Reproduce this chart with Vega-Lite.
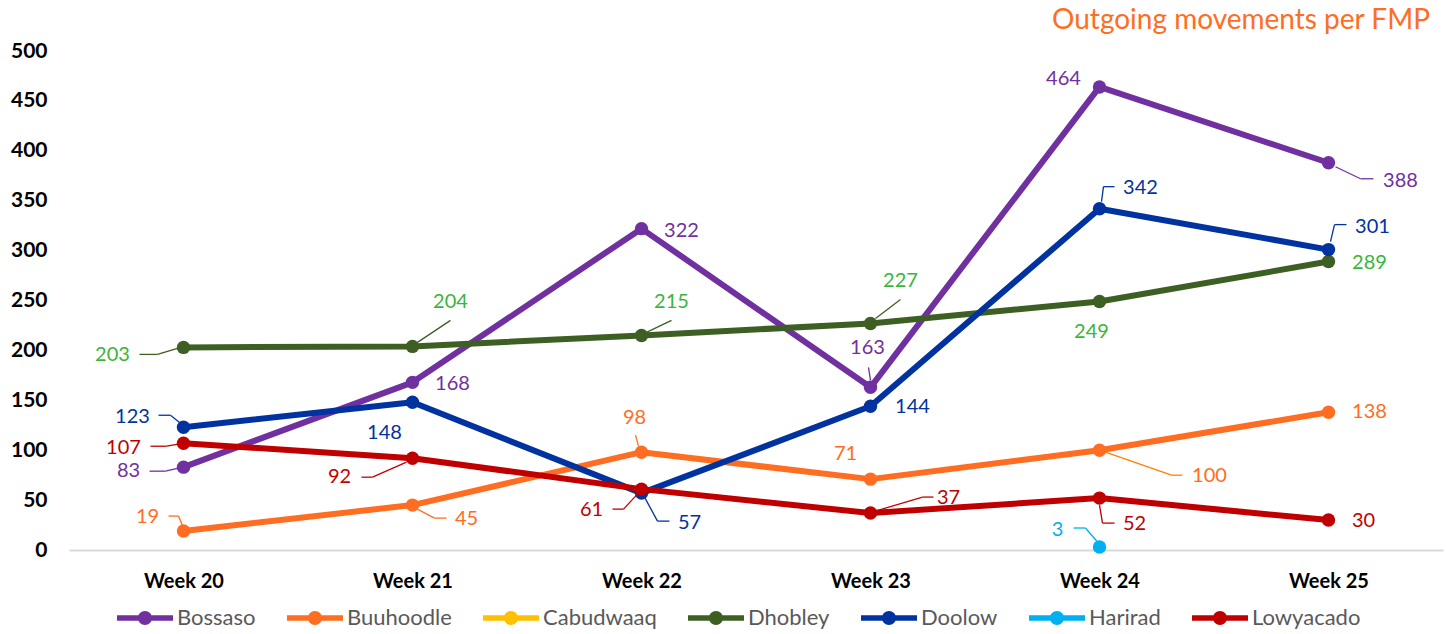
{
  "$schema": "https://vega.github.io/schema/vega-lite/v6.json",
  "width": 1374,
  "height": 499,
  "autosize": "none",
  "padding": {"left": 69, "top": 51, "right": 3, "bottom": 84},
  "title": {"text": "Outgoing movements per FMP", "anchor": "end", "frame": "group", "color": "#FF6D22", "font": "Lato", "fontSize": 28, "fontWeight": "normal", "offset": 5, "dx": -13},
  "data": {"values": [
    {"series": "Bossaso", "week": "Week 20", "value": 83},
    {"series": "Bossaso", "week": "Week 21", "value": 168},
    {"series": "Bossaso", "week": "Week 22", "value": 322},
    {"series": "Bossaso", "week": "Week 23", "value": 163},
    {"series": "Bossaso", "week": "Week 24", "value": 464},
    {"series": "Bossaso", "week": "Week 25", "value": 388},
    {"series": "Buuhoodle", "week": "Week 20", "value": 19},
    {"series": "Buuhoodle", "week": "Week 21", "value": 45},
    {"series": "Buuhoodle", "week": "Week 22", "value": 98},
    {"series": "Buuhoodle", "week": "Week 23", "value": 71},
    {"series": "Buuhoodle", "week": "Week 24", "value": 100},
    {"series": "Buuhoodle", "week": "Week 25", "value": 138},
    {"series": "Dhobley", "week": "Week 20", "value": 203},
    {"series": "Dhobley", "week": "Week 21", "value": 204},
    {"series": "Dhobley", "week": "Week 22", "value": 215},
    {"series": "Dhobley", "week": "Week 23", "value": 227},
    {"series": "Dhobley", "week": "Week 24", "value": 249},
    {"series": "Dhobley", "week": "Week 25", "value": 289},
    {"series": "Doolow", "week": "Week 20", "value": 123},
    {"series": "Doolow", "week": "Week 21", "value": 148},
    {"series": "Doolow", "week": "Week 22", "value": 57},
    {"series": "Doolow", "week": "Week 23", "value": 144},
    {"series": "Doolow", "week": "Week 24", "value": 342},
    {"series": "Doolow", "week": "Week 25", "value": 301},
    {"series": "Harirad", "week": "Week 24", "value": 3},
    {"series": "Lowyacado", "week": "Week 20", "value": 107},
    {"series": "Lowyacado", "week": "Week 21", "value": 92},
    {"series": "Lowyacado", "week": "Week 22", "value": 61},
    {"series": "Lowyacado", "week": "Week 23", "value": 37},
    {"series": "Lowyacado", "week": "Week 24", "value": 52},
    {"series": "Lowyacado", "week": "Week 25", "value": 30}
  ]},
  "encoding": {
    "x": {"field": "week", "type": "ordinal", "scale": {"type": "point", "padding": 0.5, "domain": ["Week 20", "Week 21", "Week 22", "Week 23", "Week 24", "Week 25"]},
      "axis": {"title": null, "domain": true, "domainColor": "#D9D9D9", "domainWidth": 2, "ticks": false, "tickSize": 0, "labelAngle": 0, "labelFont": "Lato", "labelFontWeight": "bold", "labelFontSize": 20, "labelColor": "#000000", "labelPadding": 21, "grid": false}},
    "y": {"field": "value", "type": "quantitative", "scale": {"domain": [0, 500], "nice": false, "zero": true},
      "axis": {"title": null, "values": [0, 50, 100, 150, 200, 250, 300, 350, 400, 450, 500], "domain": false, "ticks": false, "tickSize": 0, "grid": false, "labelFont": "Lato", "labelFontWeight": "bold", "labelFontSize": 21, "labelColor": "#000000", "labelPadding": 22}}
  },
  "layer": [
    {"mark": {"type": "line", "strokeWidth": 6, "strokeCap": "round", "strokeJoin": "round"},
     "encoding": {"color": {"field": "series", "type": "nominal",
       "scale": {"domain": ["Bossaso", "Buuhoodle", "Cabudwaaq", "Dhobley", "Doolow", "Harirad", "Lowyacado"], "range": ["#7030A0", "#FF6D22", "#FFC000", "#3E5F24", "#0033A0", "#00B0F0", "#C00000"]},
       "legend": {"title": null, "orient": "none", "legendX": 48, "legendY": 539, "direction": "horizontal", "symbolType": "M-1,-0.1H-0.2V0.1H-1Z M0.2,-0.1H1V0.1H0.2Z M0.25,0A0.25,0.25,0,1,1,-0.25,0A0.25,0.25,0,1,1,0.25,0Z", "symbolSize": 3136, "symbolStrokeWidth": 0, "labelFont": "Lato", "labelFontSize": 22, "labelColor": "#595959", "labelOffset": 4, "columnPadding": 31,
         "encode": {"symbols": {"update": {"fill": {"scale": "color", "field": "value"}, "stroke": {"value": "transparent"}, "opacity": {"value": 1}}}}}}}},
    {"mark": {"type": "circle", "size": 180, "opacity": 1},
     "encoding": {"color": {"field": "series", "type": "nominal",
       "scale": {"domain": ["Bossaso", "Buuhoodle", "Cabudwaaq", "Dhobley", "Doolow", "Harirad", "Lowyacado"], "range": ["#7030A0", "#FF6D22", "#FFC000", "#3E5F24", "#0033A0", "#00B0F0", "#C00000"]},
       "legend": {"title": null, "orient": "none", "legendX": 48, "legendY": 539, "direction": "horizontal", "symbolType": "M-1,-0.1H-0.2V0.1H-1Z M0.2,-0.1H1V0.1H0.2Z M0.25,0A0.25,0.25,0,1,1,-0.25,0A0.25,0.25,0,1,1,0.25,0Z", "symbolSize": 3136, "symbolStrokeWidth": 0, "labelFont": "Lato", "labelFontSize": 22, "labelColor": "#595959", "labelOffset": 4, "columnPadding": 31,
         "encode": {"symbols": {"update": {"fill": {"scale": "color", "field": "value"}, "stroke": {"value": "transparent"}, "opacity": {"value": 1}}}}}}}},

    {"transform": [{"filter": "datum.series=='Dhobley'&&datum.week=='Week 20'"}], "layer": [
      {"mark": {"type": "rule", "color": "#3E5F24", "strokeWidth": 1.3, "xOffset": -44, "yOffset": 7, "x2Offset": -26, "y2Offset": 7}, "encoding": {"x2": {"field": "week"}, "y2": {"field": "value"}}},
      {"mark": {"type": "rule", "color": "#3E5F24", "strokeWidth": 1.3, "xOffset": -26, "yOffset": 7, "x2Offset": -6, "y2Offset": 1}, "encoding": {"x2": {"field": "week"}, "y2": {"field": "value"}}},
      {"mark": {"type": "text", "dx": -71, "dy": 8, "color": "#3AB53A", "font": "Lato", "fontSize": 20}, "encoding": {"text": {"field": "value"}}}]},
    {"transform": [{"filter": "datum.series=='Doolow'&&datum.week=='Week 20'"}], "layer": [
      {"mark": {"type": "rule", "color": "#0033A0", "strokeWidth": 1.3, "xOffset": -25, "yOffset": -12, "x2Offset": -13, "y2Offset": -12}, "encoding": {"x2": {"field": "week"}, "y2": {"field": "value"}}},
      {"mark": {"type": "rule", "color": "#0033A0", "strokeWidth": 1.3, "xOffset": -13, "yOffset": -12, "x2Offset": -3, "y2Offset": -4}, "encoding": {"x2": {"field": "week"}, "y2": {"field": "value"}}},
      {"mark": {"type": "text", "dx": -51, "dy": -10, "color": "#0033A0", "font": "Lato", "fontSize": 20}, "encoding": {"text": {"field": "value"}}}]},
    {"transform": [{"filter": "datum.series=='Lowyacado'&&datum.week=='Week 20'"}], "layer": [
      {"mark": {"type": "rule", "color": "#C00000", "strokeWidth": 1.3, "xOffset": -33, "yOffset": 3, "x2Offset": -17, "y2Offset": 3}, "encoding": {"x2": {"field": "week"}, "y2": {"field": "value"}}},
      {"mark": {"type": "rule", "color": "#C00000", "strokeWidth": 1.3, "xOffset": -17, "yOffset": 3, "x2Offset": -5, "y2Offset": 1}, "encoding": {"x2": {"field": "week"}, "y2": {"field": "value"}}},
      {"mark": {"type": "text", "dx": -60, "dy": 5, "color": "#C00000", "font": "Lato", "fontSize": 20}, "encoding": {"text": {"field": "value"}}}]},
    {"transform": [{"filter": "datum.series=='Bossaso'&&datum.week=='Week 20'"}], "layer": [
      {"mark": {"type": "rule", "color": "#7030A0", "strokeWidth": 1.3, "xOffset": -34, "yOffset": 4, "x2Offset": -18, "y2Offset": 4}, "encoding": {"x2": {"field": "week"}, "y2": {"field": "value"}}},
      {"mark": {"type": "rule", "color": "#7030A0", "strokeWidth": 1.3, "xOffset": -18, "yOffset": 4, "x2Offset": -5, "y2Offset": 1}, "encoding": {"x2": {"field": "week"}, "y2": {"field": "value"}}},
      {"mark": {"type": "text", "dx": -55, "dy": 4, "color": "#7030A0", "font": "Lato", "fontSize": 20}, "encoding": {"text": {"field": "value"}}}]},
    {"transform": [{"filter": "datum.series=='Buuhoodle'&&datum.week=='Week 20'"}], "layer": [
      {"mark": {"type": "rule", "color": "#FF6D22", "strokeWidth": 1.3, "xOffset": -15, "yOffset": -15, "x2Offset": -5, "y2Offset": -15}, "encoding": {"x2": {"field": "week"}, "y2": {"field": "value"}}},
      {"mark": {"type": "rule", "color": "#FF6D22", "strokeWidth": 1.3, "xOffset": -5, "yOffset": -15, "x2Offset": 0, "y2Offset": -3}, "encoding": {"x2": {"field": "week"}, "y2": {"field": "value"}}},
      {"mark": {"type": "text", "dx": -36, "dy": -14, "color": "#FF6D22", "font": "Lato", "fontSize": 20}, "encoding": {"text": {"field": "value"}}}]},

    {"transform": [{"filter": "datum.series=='Dhobley'&&datum.week=='Week 21'"}], "layer": [
      {"mark": {"type": "rule", "color": "#3E5F24", "strokeWidth": 1.3, "xOffset": 5, "yOffset": -4, "x2Offset": 38, "y2Offset": -26}, "encoding": {"x2": {"field": "week"}, "y2": {"field": "value"}}},
      {"mark": {"type": "text", "dx": 38, "dy": -44, "color": "#3AB53A", "font": "Lato", "fontSize": 20}, "encoding": {"text": {"field": "value"}}}]},
    {"transform": [{"filter": "datum.series=='Bossaso'&&datum.week=='Week 21'"}], "mark": {"type": "text", "dx": 40, "dy": 2, "color": "#7030A0", "font": "Lato", "fontSize": 20}, "encoding": {"text": {"field": "value"}}},
    {"transform": [{"filter": "datum.series=='Doolow'&&datum.week=='Week 21'"}], "mark": {"type": "text", "dx": -28, "dy": 31, "color": "#0033A0", "font": "Lato", "fontSize": 20}, "encoding": {"text": {"field": "value"}}},
    {"transform": [{"filter": "datum.series=='Lowyacado'&&datum.week=='Week 21'"}], "layer": [
      {"mark": {"type": "rule", "color": "#C00000", "strokeWidth": 1.3, "xOffset": -51, "yOffset": 19, "x2Offset": -40, "y2Offset": 19}, "encoding": {"x2": {"field": "week"}, "y2": {"field": "value"}}},
      {"mark": {"type": "rule", "color": "#C00000", "strokeWidth": 1.3, "xOffset": -40, "yOffset": 19, "x2Offset": -6, "y2Offset": 4}, "encoding": {"x2": {"field": "week"}, "y2": {"field": "value"}}},
      {"mark": {"type": "text", "dx": -73, "dy": 19, "color": "#C00000", "font": "Lato", "fontSize": 20}, "encoding": {"text": {"field": "value"}}}]},
    {"transform": [{"filter": "datum.series=='Buuhoodle'&&datum.week=='Week 21'"}], "layer": [
      {"mark": {"type": "rule", "color": "#FF6D22", "strokeWidth": 1.3, "xOffset": 3, "yOffset": 3, "x2Offset": 22, "y2Offset": 13}, "encoding": {"x2": {"field": "week"}, "y2": {"field": "value"}}},
      {"mark": {"type": "rule", "color": "#FF6D22", "strokeWidth": 1.3, "xOffset": 22, "yOffset": 13, "x2Offset": 34, "y2Offset": 13}, "encoding": {"x2": {"field": "week"}, "y2": {"field": "value"}}},
      {"mark": {"type": "text", "dx": 54, "dy": 14, "color": "#FF6D22", "font": "Lato", "fontSize": 20}, "encoding": {"text": {"field": "value"}}}]},

    {"transform": [{"filter": "datum.series=='Bossaso'&&datum.week=='Week 22'"}], "mark": {"type": "text", "dx": 40, "dy": 2, "color": "#7030A0", "font": "Lato", "fontSize": 20}, "encoding": {"text": {"field": "value"}}},
    {"transform": [{"filter": "datum.series=='Dhobley'&&datum.week=='Week 22'"}], "layer": [
      {"mark": {"type": "rule", "color": "#3E5F24", "strokeWidth": 1.3, "xOffset": 5, "yOffset": -3, "x2Offset": 30, "y2Offset": -15}, "encoding": {"x2": {"field": "week"}, "y2": {"field": "value"}}},
      {"mark": {"type": "text", "dx": 30, "dy": -33, "color": "#3AB53A", "font": "Lato", "fontSize": 20}, "encoding": {"text": {"field": "value"}}}]},
    {"transform": [{"filter": "datum.series=='Buuhoodle'&&datum.week=='Week 22'"}], "layer": [
      {"mark": {"type": "rule", "color": "#FF6D22", "strokeWidth": 1.3, "xOffset": -6, "yOffset": -17, "x2Offset": -3, "y2Offset": -6}, "encoding": {"x2": {"field": "week"}, "y2": {"field": "value"}}},
      {"mark": {"type": "text", "dx": -7, "dy": -34, "color": "#FF6D22", "font": "Lato", "fontSize": 20}, "encoding": {"text": {"field": "value"}}}]},
    {"transform": [{"filter": "datum.series=='Lowyacado'&&datum.week=='Week 22'"}], "layer": [
      {"mark": {"type": "rule", "color": "#C00000", "strokeWidth": 1.3, "xOffset": -29, "yOffset": 20, "x2Offset": -18, "y2Offset": 20}, "encoding": {"x2": {"field": "week"}, "y2": {"field": "value"}}},
      {"mark": {"type": "rule", "color": "#C00000", "strokeWidth": 1.3, "xOffset": -18, "yOffset": 20, "x2Offset": -4, "y2Offset": 5}, "encoding": {"x2": {"field": "week"}, "y2": {"field": "value"}}},
      {"mark": {"type": "text", "dx": -50, "dy": 21, "color": "#C00000", "font": "Lato", "fontSize": 20}, "encoding": {"text": {"field": "value"}}}]},
    {"transform": [{"filter": "datum.series=='Doolow'&&datum.week=='Week 22'"}], "layer": [
      {"mark": {"type": "rule", "color": "#0033A0", "strokeWidth": 1.3, "xOffset": 3, "yOffset": 4, "x2Offset": 16, "y2Offset": 28}, "encoding": {"x2": {"field": "week"}, "y2": {"field": "value"}}},
      {"mark": {"type": "rule", "color": "#0033A0", "strokeWidth": 1.3, "xOffset": 16, "yOffset": 28, "x2Offset": 28, "y2Offset": 28}, "encoding": {"x2": {"field": "week"}, "y2": {"field": "value"}}},
      {"mark": {"type": "text", "dx": 48, "dy": 30, "color": "#0033A0", "font": "Lato", "fontSize": 20}, "encoding": {"text": {"field": "value"}}}]},

    {"transform": [{"filter": "datum.series=='Dhobley'&&datum.week=='Week 23'"}], "layer": [
      {"mark": {"type": "rule", "color": "#3E5F24", "strokeWidth": 1.3, "xOffset": 5, "yOffset": -5, "x2Offset": 30, "y2Offset": -24}, "encoding": {"x2": {"field": "week"}, "y2": {"field": "value"}}},
      {"mark": {"type": "text", "dx": 30, "dy": -42, "color": "#3AB53A", "font": "Lato", "fontSize": 20}, "encoding": {"text": {"field": "value"}}}]},
    {"transform": [{"filter": "datum.series=='Bossaso'&&datum.week=='Week 23'"}], "layer": [
      {"mark": {"type": "rule", "color": "#7030A0", "strokeWidth": 1.3, "xOffset": -2, "yOffset": -20, "x2Offset": 0, "y2Offset": -7}, "encoding": {"x2": {"field": "week"}, "y2": {"field": "value"}}},
      {"mark": {"type": "text", "dx": -3, "dy": -39, "color": "#7030A0", "font": "Lato", "fontSize": 20}, "encoding": {"text": {"field": "value"}}}]},
    {"transform": [{"filter": "datum.series=='Doolow'&&datum.week=='Week 23'"}], "mark": {"type": "text", "dx": 42, "dy": 1, "color": "#0033A0", "font": "Lato", "fontSize": 20}, "encoding": {"text": {"field": "value"}}},
    {"transform": [{"filter": "datum.series=='Buuhoodle'&&datum.week=='Week 23'"}], "mark": {"type": "text", "dx": -25, "dy": -25, "color": "#FF6D22", "font": "Lato", "fontSize": 20}, "encoding": {"text": {"field": "value"}}},
    {"transform": [{"filter": "datum.series=='Lowyacado'&&datum.week=='Week 23'"}], "layer": [
      {"mark": {"type": "rule", "color": "#C00000", "strokeWidth": 1.3, "xOffset": 5, "yOffset": -2, "x2Offset": 52, "y2Offset": -16}, "encoding": {"x2": {"field": "week"}, "y2": {"field": "value"}}},
      {"mark": {"type": "rule", "color": "#C00000", "strokeWidth": 1.3, "xOffset": 52, "yOffset": -16, "x2Offset": 63, "y2Offset": -16}, "encoding": {"x2": {"field": "week"}, "y2": {"field": "value"}}},
      {"mark": {"type": "text", "dx": 78, "dy": -15, "color": "#C00000", "font": "Lato", "fontSize": 20}, "encoding": {"text": {"field": "value"}}}]},

    {"transform": [{"filter": "datum.series=='Bossaso'&&datum.week=='Week 24'"}], "mark": {"type": "text", "dx": -36, "dy": -8, "color": "#7030A0", "font": "Lato", "fontSize": 20}, "encoding": {"text": {"field": "value"}}},
    {"transform": [{"filter": "datum.series=='Doolow'&&datum.week=='Week 24'"}], "layer": [
      {"mark": {"type": "rule", "color": "#0033A0", "strokeWidth": 1.3, "xOffset": 2, "yOffset": -7, "x2Offset": 4, "y2Offset": -22}, "encoding": {"x2": {"field": "week"}, "y2": {"field": "value"}}},
      {"mark": {"type": "rule", "color": "#0033A0", "strokeWidth": 1.3, "xOffset": 4, "yOffset": -22, "x2Offset": 15, "y2Offset": -22}, "encoding": {"x2": {"field": "week"}, "y2": {"field": "value"}}},
      {"mark": {"type": "text", "dx": 41, "dy": -21, "color": "#0033A0", "font": "Lato", "fontSize": 20}, "encoding": {"text": {"field": "value"}}}]},
    {"transform": [{"filter": "datum.series=='Dhobley'&&datum.week=='Week 24'"}], "mark": {"type": "text", "dx": -8, "dy": 31, "color": "#3AB53A", "font": "Lato", "fontSize": 20}, "encoding": {"text": {"field": "value"}}},
    {"transform": [{"filter": "datum.series=='Buuhoodle'&&datum.week=='Week 24'"}], "layer": [
      {"mark": {"type": "rule", "color": "#FF8000", "strokeWidth": 1.3, "xOffset": 6, "yOffset": 2, "x2Offset": 72, "y2Offset": 25}, "encoding": {"x2": {"field": "week"}, "y2": {"field": "value"}}},
      {"mark": {"type": "rule", "color": "#FF8000", "strokeWidth": 1.3, "xOffset": 72, "yOffset": 25, "x2Offset": 83, "y2Offset": 25}, "encoding": {"x2": {"field": "week"}, "y2": {"field": "value"}}},
      {"mark": {"type": "text", "dx": 110, "dy": 26, "color": "#FF6D22", "font": "Lato", "fontSize": 20}, "encoding": {"text": {"field": "value"}}}]},
    {"transform": [{"filter": "datum.series=='Lowyacado'&&datum.week=='Week 24'"}], "layer": [
      {"mark": {"type": "rule", "color": "#C00000", "strokeWidth": 1.3, "xOffset": 0, "yOffset": 7, "x2Offset": 3, "y2Offset": 25}, "encoding": {"x2": {"field": "week"}, "y2": {"field": "value"}}},
      {"mark": {"type": "rule", "color": "#C00000", "strokeWidth": 1.3, "xOffset": 3, "yOffset": 25, "x2Offset": 15, "y2Offset": 25}, "encoding": {"x2": {"field": "week"}, "y2": {"field": "value"}}},
      {"mark": {"type": "text", "dx": 35, "dy": 26, "color": "#C00000", "font": "Lato", "fontSize": 20}, "encoding": {"text": {"field": "value"}}}]},
    {"transform": [{"filter": "datum.series=='Harirad'&&datum.week=='Week 24'"}], "layer": [
      {"mark": {"type": "rule", "color": "#00B0F0", "strokeWidth": 1.3, "xOffset": -26, "yOffset": -19, "x2Offset": -14, "y2Offset": -19}, "encoding": {"x2": {"field": "week"}, "y2": {"field": "value"}}},
      {"mark": {"type": "rule", "color": "#00B0F0", "strokeWidth": 1.3, "xOffset": -14, "yOffset": -19, "x2Offset": -2, "y2Offset": -5}, "encoding": {"x2": {"field": "week"}, "y2": {"field": "value"}}},
      {"mark": {"type": "text", "dx": -42, "dy": -17, "color": "#00B0F0", "font": "Lato", "fontSize": 20}, "encoding": {"text": {"field": "value"}}}]},

    {"transform": [{"filter": "datum.series=='Bossaso'&&datum.week=='Week 25'"}], "layer": [
      {"mark": {"type": "rule", "color": "#7030A0", "strokeWidth": 1.3, "xOffset": 7, "yOffset": 4, "x2Offset": 32, "y2Offset": 16}, "encoding": {"x2": {"field": "week"}, "y2": {"field": "value"}}},
      {"mark": {"type": "rule", "color": "#7030A0", "strokeWidth": 1.3, "xOffset": 32, "yOffset": 16, "x2Offset": 45, "y2Offset": 16}, "encoding": {"x2": {"field": "week"}, "y2": {"field": "value"}}},
      {"mark": {"type": "text", "dx": 72, "dy": 18, "color": "#7030A0", "font": "Lato", "fontSize": 20}, "encoding": {"text": {"field": "value"}}}]},
    {"transform": [{"filter": "datum.series=='Doolow'&&datum.week=='Week 25'"}], "layer": [
      {"mark": {"type": "rule", "color": "#0033A0", "strokeWidth": 1.3, "xOffset": 2, "yOffset": -8, "x2Offset": 6, "y2Offset": -25}, "encoding": {"x2": {"field": "week"}, "y2": {"field": "value"}}},
      {"mark": {"type": "rule", "color": "#0033A0", "strokeWidth": 1.3, "xOffset": 6, "yOffset": -25, "x2Offset": 18, "y2Offset": -25}, "encoding": {"x2": {"field": "week"}, "y2": {"field": "value"}}},
      {"mark": {"type": "text", "dx": 44, "dy": -23, "color": "#0033A0", "font": "Lato", "fontSize": 20}, "encoding": {"text": {"field": "value"}}}]},
    {"transform": [{"filter": "datum.series=='Dhobley'&&datum.week=='Week 25'"}], "mark": {"type": "text", "dx": 41, "dy": 1, "color": "#3AB53A", "font": "Lato", "fontSize": 20}, "encoding": {"text": {"field": "value"}}},
    {"transform": [{"filter": "datum.series=='Buuhoodle'&&datum.week=='Week 25'"}], "mark": {"type": "text", "dx": 41, "dy": 0, "color": "#FF6D22", "font": "Lato", "fontSize": 20}, "encoding": {"text": {"field": "value"}}},
    {"transform": [{"filter": "datum.series=='Lowyacado'&&datum.week=='Week 25'"}], "mark": {"type": "text", "dx": 35, "dy": 1, "color": "#C00000", "font": "Lato", "fontSize": 20}, "encoding": {"text": {"field": "value"}}}
  ],
  "config": {"view": {"stroke": null}, "font": "Lato"}
}
